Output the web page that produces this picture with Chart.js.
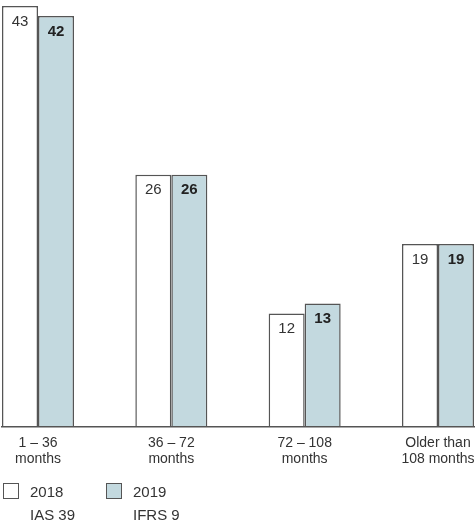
<!DOCTYPE html>
<html>
<head>
<meta charset="utf-8">
<script src="https://cdn.jsdelivr.net/npm/chart.js@4.4.1/dist/chart.umd.min.js"></script>
<style>
  html, body { margin: 0; padding: 0; background: #fff; }
  #wrap { position: relative; width: 475px; height: 526px; overflow: hidden; }
  #c { position: absolute; left: 0; top: 0; }
  .lg { position: absolute; font-family: "Liberation Sans", Arial, sans-serif; font-size: 15px; color: #333; line-height: 23px; }
  .box { position: absolute; width: 14px; height: 14px; border: 1.5px solid #555; }
</style>
</head>
<body>
<div id="wrap">
  <canvas id="c" width="475" height="526"></canvas>
  <div class="box" style="left:3px;top:483px;background:#ffffff;"></div>
  <div class="lg" id="lg1" style="left:30px;top:480px;"></div>
  <div class="box" style="left:106px;top:483px;background:#c3d9df;"></div>
  <div class="lg" id="lg2" style="left:133px;top:480px;"></div>
</div>
<script>
const categories = [["1 – 36", "months"], ["36 – 72", "months"], ["72 – 108", "months"], ["Older than", "108 months"]];
const values2018 = [43, 26, 12, 19];
const values2019 = [42, 26, 13, 19];
const seriesNames = ["2018", "2019"];
const seriesSubNames = ["IAS 39", "IFRS 9"];
const axisStart = 0.6;

document.getElementById('lg1').innerHTML = seriesNames[0] + '<br>' + seriesSubNames[0];
document.getElementById('lg2').innerHTML = seriesNames[1] + '<br>' + seriesSubNames[1];

const FONT = '"Liberation Sans", Arial, sans-serif';

const labelPlugin = {
  id: 'vals',
  afterDatasetsDraw(chart) {
    const ctx = chart.ctx;
    ctx.save();
    chart.data.datasets.forEach((ds, di) => {
      const meta = chart.getDatasetMeta(di);
      meta.data.forEach((bar, i) => {
        ctx.font = (di === 1 ? 'bold ' : '') + '15px ' + FONT;
        ctx.fillStyle = di === 1 ? '#222' : '#333';
        ctx.textAlign = 'center';
        ctx.textBaseline = 'top';
        ctx.fillText(String(ds.data[i]), bar.x, bar.y + 8);
      });
    });
    const first = chart.getDatasetMeta(0).data[0];
    const lastMeta = chart.getDatasetMeta(chart.data.datasets.length - 1);
    const last = lastMeta.data[lastMeta.data.length - 1];
    const y = chart.chartArea.bottom;
    ctx.strokeStyle = '#555';
    ctx.lineWidth = 1.5;
    ctx.beginPath();
    ctx.moveTo(first.x - first.width / 2 - 1, y);
    ctx.lineTo(last.x + last.width / 2 + 1, y);
    ctx.stroke();
    ctx.restore();
  }
};

new Chart(document.getElementById('c'), {
  type: 'bar',
  data: {
    labels: categories,
    datasets: [
      { label: seriesNames[0], data: values2018, backgroundColor: '#ffffff', borderColor: '#555', borderWidth: 1.5,
        categoryPercentage: 0.54, barPercentage: 1.0, clip: false, base: axisStart },
      { label: seriesNames[1], data: values2019, backgroundColor: '#c3d9df', borderColor: '#555', borderWidth: 1.5,
        categoryPercentage: 0.54, barPercentage: 1.0, clip: false, base: axisStart }
    ]
  },
  options: {
    responsive: false,
    animation: false,
    events: [],
    layout: { padding: { left: 38, right: 37, top: 2, bottom: 50 } },
    plugins: { legend: { display: false }, tooltip: { enabled: false } },
    scales: {
      x: {
        offset: false,
        grid: { display: false, drawTicks: false },
        border: { display: false },
        ticks: { color: '#333', padding: 9, maxRotation: 0, autoSkip: false,
          font: { family: FONT, size: 14, lineHeight: 1.12 } },
        afterFit: (scale) => { scale.paddingLeft = 0; scale.paddingRight = 0; }
      },
      y: { display: false, min: axisStart, max: 43.4 }
    }
  },
  plugins: [labelPlugin]
});
</script>
</body>
</html>
